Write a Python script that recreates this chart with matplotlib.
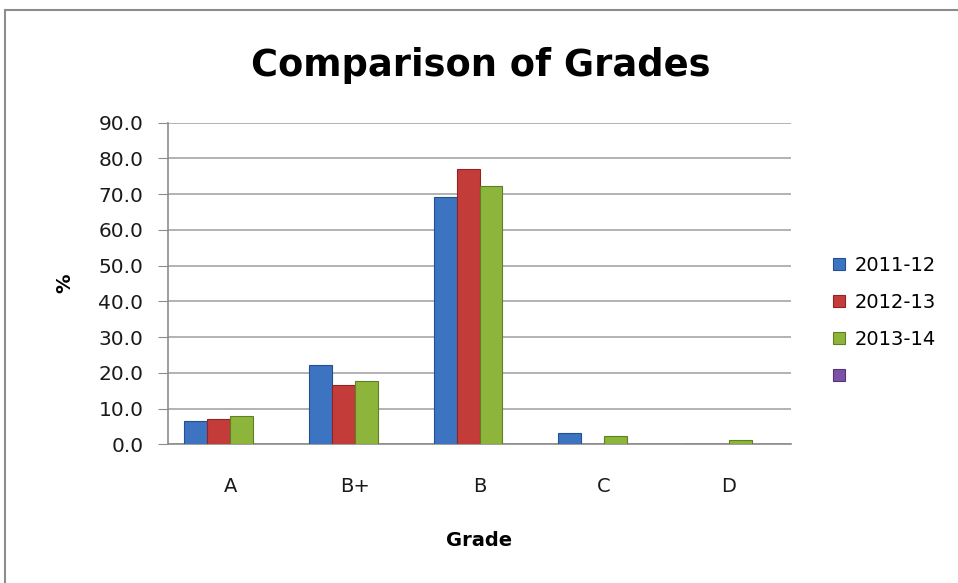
import numpy as np
import matplotlib.pyplot as plt
from matplotlib.patches import Rectangle

grades = ["A", "B+", "B", "C", "D"]
y2011 = [6.4, 22.3, 69.2, 3.2, 0.0]
y2012 = [7.0, 16.5, 77.0, 0.0, 0.0]
y2013 = [7.8, 17.6, 72.4, 2.4, 1.3]
y_blank = [0.0, 0.0, 0.0, 0.0, 0.0]
series = ["2011-12", "2012-13", "2013-14", " "]
colors = ["#3c74c2", "#c43c3a", "#8db53b", "#7d52a6"]
edges = ["#24508f", "#8e2523", "#5f7f22", "#553577"]

W, H = 958, 583
fig = plt.figure(figsize=(W / 100, H / 100), dpi=100)
ax = fig.add_axes([168 / W, 1 - 444.3 / H, (791 - 168) / W, (444.3 - 122.7) / H])

# chart frame
fig.patches.append(Rectangle((5 / W, -0.1), 1.2, 1 - 10 / H + 0.1, transform=fig.transFigure,
                             fill=False, edgecolor="#8c8c8c", linewidth=1.5))

x = np.arange(len(grades))
w = 0.184
for i, vals in enumerate([y2011, y2012, y2013, y_blank]):
    ax.bar(x + (i - 1.5) * w, vals, w, color=colors[i], edgecolor=edges[i],
           linewidth=0.8, label=series[i], zorder=3 if i < 3 else 0)

ax.set_xlim(-0.5, len(grades) - 0.5)
ax.set_ylim(0, 90)
ticks = np.arange(0, 91, 10)
ax.set_yticks(ticks)
ax.set_yticklabels([f"{v:.1f}" for v in ticks], fontsize=14.5, color="#1a1a1a")
ax.set_xticks(x)
ax.set_xticklabels(grades, fontsize=14, color="#1a1a1a")
ax.tick_params(axis="x", length=0, pad=23.5)
ax.tick_params(axis="y", length=7.2, color="#8c8c8c", pad=10.5)
ax.grid(axis="y", color="#a6a6a6", linewidth=1.2, zorder=0)
for s in ["top", "right"]:
    ax.spines[s].set_visible(False)
for s in ["left", "bottom"]:
    ax.spines[s].set_color("#8c8c8c")
    ax.spines[s].set_linewidth(1.2)

ax.set_ylabel("%", fontsize=14, fontweight="bold", labelpad=17)
ax.set_xlabel("Grade", fontsize=14, fontweight="bold", labelpad=25)
fig.text(481 / W, 1 - 65 / H, "Comparison of Grades", ha="center", va="center",
         fontsize=26.5, fontweight="bold")

fig.legend(loc="upper left", bbox_to_anchor=(833 / W, 1 - 256 / H), frameon=False,
           fontsize=14, handlelength=0.6, handleheight=0.6, labelspacing=0.92,
           handletextpad=0.5, borderpad=0, borderaxespad=0)

fig.savefig("out.png", dpi=100)
